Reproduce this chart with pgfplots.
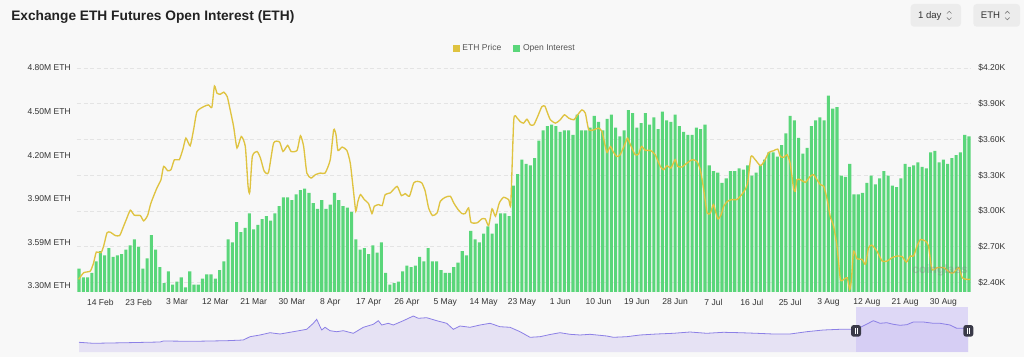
\documentclass[border=0pt]{standalone}
\usepackage{pgfplots}
\pgfplotsset{compat=1.18}
\usepackage{pgfplotstable}
\usepackage{fontspec}
\setmainfont{Liberation Sans}

\definecolor{bgc}{HTML}{F8F8F8}
\definecolor{barc}{HTML}{5AD67A}
\definecolor{pricec}{HTML}{DFC340}
\definecolor{gridc}{HTML}{E4E4E4}
\definecolor{txtc}{HTML}{333333}
\definecolor{legc}{HTML}{555555}
\definecolor{titlec}{HTML}{222222}
\definecolor{btnc}{HTML}{ECECEC}
\definecolor{navfill}{HTML}{E6E2F4}
\definecolor{navline}{HTML}{8C80E6}
\definecolor{navsel}{HTML}{C9BEF5}
\definecolor{handlec}{HTML}{3A3A48}

\newcommand{\tickfont}{\fontsize{6.4}{7.5}\selectfont}

\pgfplotstableread{
x y
-5 3.42
-4 3.36
-3 3.36
-2 3.39
-1 3.47
0 3.54
1 3.51
2 3.56
3 3.50
4 3.51
5 3.52
6 3.55
7 3.58
8 3.62
9 3.57
10 3.42
11 3.49
12 3.65
13 3.55
14 3.43
15 3.32
16 3.40
17 3.31
18 3.33
19 3.36
20 3.29
21 3.40
22 3.31
23 3.31
24 3.35
25 3.38
26 3.38
27 3.35
28 3.41
29 3.47
30 3.62
31 3.60
32 3.74
33 3.67
34 3.70
35 3.80
36 3.69
37 3.72
38 3.76
39 3.78
40 3.75
41 3.80
42 3.85
43 3.91
44 3.91
45 3.89
46 3.93
47 3.96
48 3.97
49 3.94
50 3.87
51 3.83
52 3.89
53 3.83
54 3.86
55 3.94
56 3.89
57 3.85
58 3.84
59 3.81
60 3.62
61 3.55
62 3.56
63 3.52
64 3.58
65 3.53
66 3.60
67 3.39
68 3.31
69 3.32
70 3.33
71 3.40
72 3.44
73 3.43
74 3.44
75 3.50
76 3.47
77 3.56
78 3.47
79 3.47
80 3.41
81 3.39
82 3.39
83 3.43
84 3.46
85 3.54
86 3.51
87 3.68
88 3.62
89 3.60
90 3.66
91 3.71
92 3.66
93 3.73
94 3.80
95 3.80
96 3.78
97 3.99
98 4.07
99 4.17
100 4.14
101 4.13
102 4.18
103 4.30
104 4.37
105 4.40
106 4.41
107 4.40
108 4.36
109 4.37
110 4.37
111 4.34
112 4.48
113 4.37
114 4.37
115 4.39
116 4.47
117 4.43
118 4.37
119 4.45
120 4.48
121 4.39
122 4.33
123 4.37
124 4.51
125 4.49
126 4.39
127 4.42
128 4.49
129 4.41
130 4.46
131 4.38
132 4.50
133 4.44
134 4.43
135 4.48
136 4.40
137 4.36
138 4.34
139 4.34
140 4.39
141 4.38
142 4.41
143 4.13
144 4.09
145 4.08
146 4.01
147 4.04
148 4.09
149 4.09
150 4.11
151 4.10
152 4.13
153 4.06
154 4.08
155 4.13
156 4.17
157 4.22
158 4.22
159 4.19
160 4.27
161 4.35
162 4.47
163 4.44
164 4.32
165 4.21
166 4.25
167 4.40
168 4.44
169 4.46
170 4.44
171 4.61
172 4.52
173 4.53
174 4.06
175 4.05
176 4.14
177 3.93
178 3.93
179 3.94
180 4.01
181 4.06
182 4.00
183 4.04
184 4.09
185 4.06
186 3.99
187 3.98
188 4.04
189 4.14
190 4.12
191 4.13
192 4.15
193 4.12
194 4.11
195 4.22
196 4.23
197 4.15
198 4.17
199 4.14
200 4.18
201 4.20
202 4.22
203 4.34
204 4.33
}\oitable

\pgfplotstableread{
x y
-5.1 2.425
-3.9 2.481
-2.35 2.495
-1.57 2.565
-0.94 2.654
0.16 2.649
0.78 2.704
1.57 2.816
2.35 2.821
3.52 2.793
4.54 2.793
5.32 2.858
6.1 2.927
7.05 3.006
7.98 2.964
9.39 2.961
10.18 2.916
11.1 2.961
11.9 3.067
13.3 3.193
14.25 3.262
14.87 3.374
15.8 3.338
16.6 3.346
17.4 3.430
18.55 3.430
19.4 3.519
20.1 3.611
21.1 3.547
21.9 3.681
22.7 3.834
24.3 3.876
25.4 3.890
26.2 3.871
26.8 4.049
27.4 3.988
28.2 3.980
29.0 3.997
29.8 3.960
30.5 3.848
31.3 3.709
32.1 3.528
33.1 3.625
34.05 3.541
34.7 3.206
35.1 3.156
35.7 3.457
36.8 3.499
37.6 3.444
38.5 3.332
39.5 3.323
40.7 3.570
42.1 3.578
42.9 3.499
44.0 3.550
44.8 3.499
46.2 3.508
47.0 3.631
47.75 3.541
48.5 3.318
49.5 3.276
50.5 3.304
51.7 3.318
52.8 3.318
54.0 3.430
54.8 3.681
55.35 3.639
55.8 3.508
56.8 3.536
57.9 3.508
58.7 3.402
59.5 3.151
60.0 2.997
60.5 3.081
61.1 3.137
62.0 3.095
63.0 3.061
63.8 2.978
64.35 3.039
65.4 3.053
66.2 3.045
66.9 3.137
68.1 3.151
69.7 3.206
70.7 3.128
71.6 3.145
72.6 3.123
73.6 3.235
74.5 3.248
75.5 3.235
76.3 3.165
77.1 3.025
78.0 2.961
79.1 2.983
79.85 3.081
81.0 3.114
82.2 3.123
83.0 3.067
83.9 3.017
84.9 2.978
85.7 2.978
86.5 3.025
87.05 2.905
88.5 2.900
89.6 2.933
90.4 2.933
91.2 2.877
92.0 3.017
92.8 2.955
93.7 3.067
94.7 3.114
95.9 3.095
96.4 3.061
97.1 3.765
97.9 3.779
98.6 3.750
99.4 3.737
100.2 3.770
101.0 3.723
101.8 3.723
102.7 3.792
103.7 3.876
104.4 3.880
104.9 3.834
105.7 3.765
106.9 3.737
108.0 3.765
109.0 3.807
110.0 3.779
111.2 3.765
112.1 3.807
113.1 3.848
113.9 3.821
114.7 3.681
115.9 3.681
117.0 3.695
117.8 3.667
118.6 3.541
119.0 3.491
119.8 3.541
120.4 3.499
121.3 3.457
122.1 3.472
123.3 3.570
123.8 3.611
124.5 3.555
125.6 3.472
126.4 3.477
127.1 3.541
128.0 3.508
129.2 3.508
130.3 3.472
131.5 3.374
132.3 3.346
133.1 3.380
134.0 3.360
135.0 3.430
135.6 3.374
136.6 3.369
137.8 3.402
139.0 3.430
140.1 3.416
140.9 3.346
141.7 3.179
142.5 2.983
143.3 2.983
144.0 3.053
145.0 2.933
145.8 2.969
146.4 3.039
147.3 3.081
148.3 3.095
149.5 3.095
150.3 3.123
151.2 3.165
152.0 3.229
152.8 3.457
153.8 3.430
155.0 3.380
155.9 3.416
157.0 3.491
158.1 3.505
159.1 3.519
159.7 3.457
160.5 3.450
161.3 3.472
162.0 3.400
162.8 3.190
163.2 3.165
163.6 3.262
164.4 3.262
165.6 3.240
166.7 3.290
167.5 3.304
168.3 3.262
169.1 3.220
169.9 3.206
170.7 3.095
171.4 2.955
172.2 2.871
173.0 2.704
173.8 2.425
174.6 2.425
175.4 2.439
176.0 2.341
176.4 2.425
176.9 2.662
177.7 2.598
178.9 2.593
179.7 2.551
180.4 2.690
181.2 2.712
182.4 2.662
183.6 2.579
184.8 2.579
185.9 2.607
187.1 2.621
188.3 2.616
189.3 2.570
190.2 2.621
191.0 2.621
191.8 2.704
192.6 2.760
193.8 2.746
194.5 2.704
195.3 2.509
196.5 2.523
198.1 2.523
199.6 2.481
200.4 2.481
201.6 2.523
202.4 2.439
203.5 2.425
204.3 2.425
}\pricetable

\pgfplotstableread{
x y
79 9.7
93.3 8.7
126.7 9.3
160 10
163.3 11
193.3 10.7
226.7 11.3
243.3 12
250 15.3
260 17
270 19.3
280 18
293.3 20.3
306.7 22.7
313.3 28.7
316.7 32.7
319.3 27
321.7 22
325 24.7
330 21.3
336.7 20.3
343.3 21.3
353.3 18.7
363.3 24.7
373.3 27.7
378.3 31.3
381.7 27
388.3 28.7
393.3 27
403.3 31.3
413.3 36
418.3 33.7
426.7 34.3
436.7 31.3
446.7 28.7
453.3 22.7
460 26
470 24.7
480 27
490 28.7
500 25.3
510 24.7
520 20.3
530 14.7
540 15.3
550 17.5
560 19.3
570 17.7
580 17
590 17.7
606.7 16
613.3 14.7
626.7 15.3
640 17
656.7 18
673.3 18.7
690 20
706.7 18.7
723.3 19.7
740 19.3
756.7 18.7
773.3 18
790 18
806.7 20.3
823.3 22
840 22.7
856 22.7
865 27
873.3 31.3
880 28.7
886.7 29.3
893.3 27.7
900 26.7
906.7 27.3
913.3 30
923.3 30
933.3 28.7
940 28.7
950 27
956.7 23.7
968.3 23.7
}\navtable

\begin{document}
\begin{tikzpicture}
\fill[bgc] (0pt,0pt) rectangle (768pt,267.75pt);
\useasboundingbox (0pt,0pt) rectangle (768pt,267.75pt);

% title
\node[anchor=west, inner sep=0pt, text=titlec, font=\bfseries\fontsize{10.3}{12}\selectfont] at (8.25pt,255pt) {Exchange ETH Futures Open Interest (ETH)};

% buttons
\fill[btnc, rounded corners=2.5pt] (683pt,247.7pt) rectangle (720.75pt,264.75pt);
\fill[btnc, rounded corners=2.5pt] (730pt,247.7pt) rectangle (765pt,264.75pt);
\node[anchor=west, inner sep=0pt, text=txtc, font=\fontsize{7.2}{8}\selectfont] at (688.3pt,256.1pt) {1 day};
\node[anchor=west, inner sep=0pt, text=txtc, font=\fontsize{7.2}{8}\selectfont] at (735.5pt,256.1pt) {ETH};
\draw[gray, line width=0.45pt] (710.2pt,257.6pt) -- (711.9pt,259.3pt) -- (713.6pt,257.6pt);
\draw[gray, line width=0.45pt] (710.2pt,254.6pt) -- (711.9pt,252.9pt) -- (713.6pt,254.6pt);
\draw[gray, line width=0.45pt] (753.8pt,257.6pt) -- (755.5pt,259.3pt) -- (757.2pt,257.6pt);
\draw[gray, line width=0.45pt] (753.8pt,254.6pt) -- (755.5pt,252.9pt) -- (757.2pt,254.6pt);

% axis A: grid and right labels
\begin{axis}[
  scale only axis, width=670.65pt, height=168pt,
  at={(57.675pt,48.75pt)}, anchor=south west,
  xmin=-5.5, xmax=204.5, ymin=2.319, ymax=4.20,
  axis x line=none, axis y line*=right,
  axis line style={draw=none},
  major tick length=0pt,
  ytick={2.4,2.7,3.0,3.3,3.6,3.9,4.2},
  yticklabels={\$2.40K,\$2.70K,\$3.00K,\$3.30K,\$3.60K,\$3.90K,\$4.20K},
  yticklabel style={font=\tickfont, text=txtc, anchor=west, inner sep=0pt, xshift=5.2pt},
  ymajorgrids, major grid style={gridc, dash pattern=on 3pt off 2pt, line width=0.5pt},
]
\addplot[draw=none] coordinates {(0,3)};
\end{axis}

% axis B: open interest bars, left axis, x labels
\begin{axis}[
  scale only axis, width=670.65pt, height=168pt,
  at={(57.675pt,48.75pt)}, anchor=south west,
  xmin=-5.5, xmax=204.5, ymin=3.2587, ymax=4.80,
  axis y line*=left, axis x line*=bottom,
  axis line style={draw=none},
  major tick length=0pt,
  ytick={3.3,3.6,3.9,4.2,4.5,4.8},
  yticklabels={3.30M ETH,3.59M ETH,3.90M ETH,4.20M ETH,4.50M ETH,4.80M ETH},
  yticklabel style={font=\tickfont, text=txtc, anchor=east, inner sep=0pt, xshift=-4.4pt},
  xtick={0,9,18,27,36,45,54,63,72,81,90,99,108,117,126,135,144,153,162,171,180,189,198},
  xticklabels={14 Feb,23 Feb,3 Mar,12 Mar,21 Mar,30 Mar,8 Apr,17 Apr,26 Apr,5 May,14 May,23 May,1 Jun,10 Jun,19 Jun,28 Jun,7 Jul,16 Jul,25 Jul,3 Aug,12 Aug,21 Aug,30 Aug},
  xticklabel style={font=\tickfont, text=txtc, anchor=north, inner sep=0pt, yshift=-5pt},
]
\addplot[ybar, bar width=0.72, fill=barc, draw=none] table[x=x,y=y] {\oitable};
\end{axis}

% axis C: ETH price line, legend
\begin{axis}[
  scale only axis, width=670.65pt, height=168pt,
  at={(57.675pt,48.75pt)}, anchor=south west,
  xmin=-5.5, xmax=204.5, ymin=2.319, ymax=4.20,
  hide axis,
  legend columns=2,
  legend style={at={(0.49,1.089)}, anchor=center, draw=none, fill=none,
    font=\tickfont, text=legc, inner sep=0pt,
    /tikz/every even column/.append style={column sep=7pt}},
  legend image code/.code={\path[#1] (0pt,-2.6pt) rectangle (5.3pt,2.6pt);},
]
\addplot[pricec, line width=1pt, smooth, tension=0.35, forget plot] table[x=x,y=y] {\pricetable};
\addlegendimage{fill=pricec, draw=none}
\addlegendentry{ETH Price}
\addlegendimage{fill=barc, draw=none}
\addlegendentry{Open Interest}
\end{axis}

% watermark
\node[text=gray, opacity=0.35, font=\bfseries\fontsize{9}{10}\selectfont] at (705pt,65pt) {coinglass};

% navigator
\begin{axis}[
  scale only axis, width=667pt, height=33.75pt,
  at={(59.25pt,3.75pt)}, anchor=south west,
  xmin=79, xmax=968.3, ymin=0, ymax=45,
  hide axis, clip=false,
]
\addplot[fill=navfill, draw=none] table[x=x,y=y] {\navtable} \closedcycle;
\fill[navsel, opacity=0.55] (axis cs:856,0) rectangle (axis cs:968.3,45);
\addplot[navline, line width=0.6pt] table[x=x,y=y] {\navtable};
\fill[handlec, rounded corners=2pt] (axis cs:851,15.3) rectangle (axis cs:861,27);
\fill[handlec, rounded corners=2pt] (axis cs:963.3,15.3) rectangle (axis cs:973.3,27);
\draw[white, line width=0.4pt] (axis cs:855.2,18.5) -- (axis cs:855.2,23.8) (axis cs:856.8,18.5) -- (axis cs:856.8,23.8);
\draw[white, line width=0.4pt] (axis cs:967.5,18.5) -- (axis cs:967.5,23.8) (axis cs:969.1,18.5) -- (axis cs:969.1,23.8);
\end{axis}
\end{tikzpicture}
\end{document}
